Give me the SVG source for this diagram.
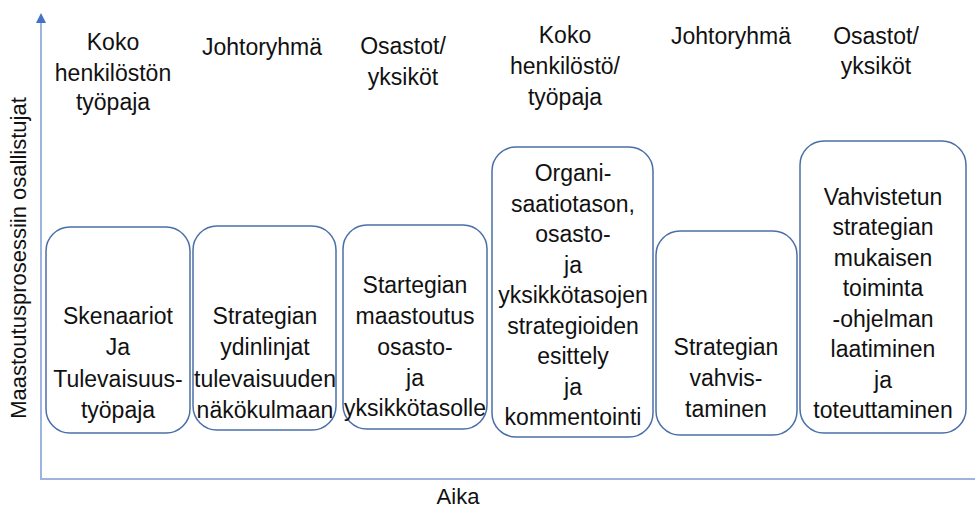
<svg xmlns="http://www.w3.org/2000/svg" width="975" height="510" viewBox="0 0 975 510">
  <style>
    .t { font-family: "Liberation Sans", Arial, sans-serif; font-size: 23px; fill: #111; text-anchor: middle; }
    .ax { font-size: 22px; }
    .box { fill: #fff; stroke: #4a6fa8; stroke-width: 1.5; }
    .axis { stroke: #9db4df; stroke-width: 2; fill: none; }
  </style>
  <defs>
    <marker id="arrow" markerWidth="10" markerHeight="10" refX="5" refY="5" orient="auto" markerUnits="userSpaceOnUse">
      <path d="M0,10 L5,0 L10,10 Z" fill="#4472c4" transform="rotate(90 5 5)"/>
    </marker>
  </defs>

  <!-- axes -->
  <g id="axes">
    <path class="axis" d="M41,479 L41,18" marker-end="url(#arrow)"/>
    <path class="axis" d="M40,479 L975,479"/>
    <text class="t ax" transform="translate(26,258) rotate(-90)">Maastoutusprosessiin osallistujat</text>
    <text class="t ax" x="458" y="504">Aika</text>
  </g>

  <!-- participant headers -->
  <g id="headers">
    <text class="t" x="113" y="50">Koko</text>
    <text class="t" x="113" y="81">henkilöstön</text>
    <text class="t" x="113" y="110">työpaja</text>
    <text class="t" x="262" y="55">Johtoryhmä</text>
    <text class="t" x="403" y="54">Osastot/</text>
    <text class="t" x="403" y="85">yksiköt</text>
    <text class="t" x="565" y="43">Koko</text>
    <text class="t" x="565" y="74">henkilöstö/</text>
    <text class="t" x="565" y="105">työpaja</text>
    <text class="t" x="731" y="44">Johtoryhmä</text>
    <text class="t" x="876" y="44">Osastot/</text>
    <text class="t" x="876" y="74">yksiköt</text>
  </g>

  <g id="connectors"></g>

  <g id="node1">
    <rect class="box" x="46" y="227" width="144" height="206" rx="24"/>
    <text class="t" x="118" y="324">Skenaariot</text>
    <text class="t" x="118" y="355">Ja</text>
    <text class="t" x="118" y="387">Tulevaisuus-</text>
    <text class="t" x="118" y="418">työpaja</text>
  </g>

  <g id="node2">
    <rect class="box" x="193" y="226" width="143" height="204" rx="24"/>
    <text class="t" x="265" y="324">Strategian</text>
    <text class="t" x="265" y="355">ydinlinjat</text>
    <text class="t" x="265" y="387">tulevaisuuden</text>
    <text class="t" x="265" y="418">näkökulmaan</text>
  </g>

  <g id="node3">
    <rect class="box" x="343" y="225" width="144" height="204" rx="24"/>
    <text class="t" x="415" y="293">Startegian</text>
    <text class="t" x="415" y="324">maastoutus</text>
    <text class="t" x="415" y="355">osasto-</text>
    <text class="t" x="415" y="386">ja</text>
    <text class="t" x="415" y="416">yksikkötasolle</text>
  </g>

  <g id="node4">
    <rect class="box" x="492" y="147" width="161" height="290" rx="24"/>
    <text class="t" x="573" y="181">Organi-</text>
    <text class="t" x="573" y="212">saatiotason,</text>
    <text class="t" x="573" y="242">osasto-</text>
    <text class="t" x="573" y="273">ja</text>
    <text class="t" x="573" y="303">yksikkötasojen</text>
    <text class="t" x="573" y="334">strategioiden</text>
    <text class="t" x="573" y="364">esittely</text>
    <text class="t" x="573" y="395">ja</text>
    <text class="t" x="573" y="425">kommentointi</text>
  </g>

  <g id="node5">
    <rect class="box" x="656" y="231" width="141" height="204" rx="24"/>
    <text class="t" x="726" y="355">Strategian</text>
    <text class="t" x="726" y="386">vahvis-</text>
    <text class="t" x="726" y="417">taminen</text>
  </g>

  <g id="node6">
    <rect class="box" x="800" y="141" width="166" height="292" rx="24"/>
    <text class="t" x="883" y="205">Vahvistetun</text>
    <text class="t" x="883" y="235">strategian</text>
    <text class="t" x="883" y="266">mukaisen</text>
    <text class="t" x="883" y="296">toiminta</text>
    <text class="t" x="883" y="327">-ohjelman</text>
    <text class="t" x="883" y="357">laatiminen</text>
    <text class="t" x="883" y="388">ja</text>
    <text class="t" x="883" y="418">toteuttaminen</text>
  </g>
</svg>
